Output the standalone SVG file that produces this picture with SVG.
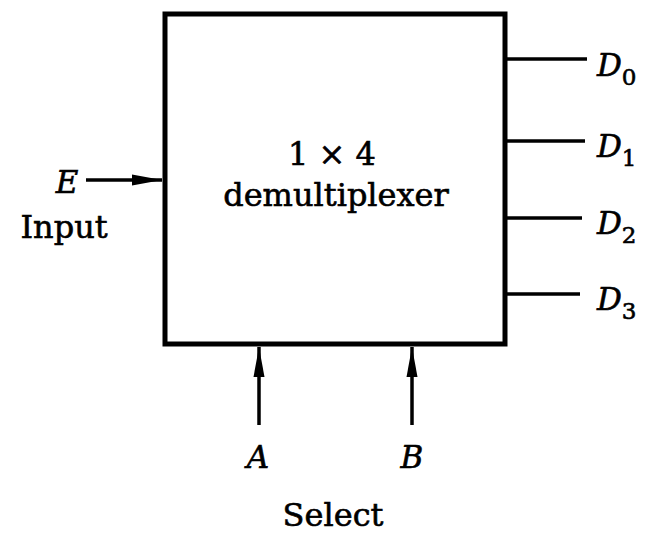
<svg xmlns="http://www.w3.org/2000/svg" width="651" height="537" viewBox="0 0 651 537">
<defs>
<style>
.ln{stroke:#000;stroke-width:3.5;fill:none}
.t{font-family:"DejaVu Serif","Liberation Serif",serif;fill:#000;stroke:#000;stroke-width:0.6}
.lab{font-size:32px}
.it{font-style:italic;font-size:31px}
.sub{font-size:23px}
</style>
<marker id="ahl" viewBox="0 0 30 14" refX="30" refY="7" markerWidth="30" markerHeight="14" markerUnits="userSpaceOnUse" orient="auto">
<path d="M0,1.5 L30,7 L0,12.5 Z" fill="#000"/>
</marker>
</defs>
<rect width="651" height="537" fill="#fff"/>
<g id="demux">
<rect x="165" y="14" width="340" height="330" fill="none" stroke="#000" stroke-width="5"/>
<text class="t lab" x="332" y="165" text-anchor="middle">1 × 4</text>
<text class="t lab" x="336" y="206" text-anchor="middle">demultiplexer</text>
</g>
<g id="connectors">
<line class="ln" x1="86" y1="180" x2="162" y2="180" marker-end="url(#ahl)"/>
<line class="ln" x1="507" y1="59" x2="587" y2="59"/>
<line class="ln" x1="507" y1="141" x2="585" y2="141"/>
<line class="ln" x1="507" y1="218" x2="582" y2="218"/>
<line class="ln" x1="507" y1="294" x2="580" y2="294"/>
<line class="ln" x1="259" y1="425" x2="259" y2="347" marker-end="url(#ahl)"/>
<line class="ln" x1="412" y1="425" x2="412" y2="347" marker-end="url(#ahl)"/>
</g>
<g id="input">
<text class="t it" x="67" y="193" text-anchor="middle">E</text>
<text class="t lab" x="64" y="238" text-anchor="middle">Input</text>
</g>
<g id="outputs">
<text class="t it" x="597" y="76">D<tspan class="sub" font-style="normal" dy="9">0</tspan></text>
<text class="t it" x="597" y="157">D<tspan class="sub" font-style="normal" dy="9">1</tspan></text>
<text class="t it" x="597" y="234">D<tspan class="sub" font-style="normal" dy="9">2</tspan></text>
<text class="t it" x="597" y="310">D<tspan class="sub" font-style="normal" dy="9">3</tspan></text>
</g>
<g id="select">
<text class="t it" x="258" y="468" text-anchor="middle">A</text>
<text class="t it" x="412" y="468" text-anchor="middle">B</text>
<text class="t lab" x="333" y="526" text-anchor="middle">Select</text>
</g>
</svg>
